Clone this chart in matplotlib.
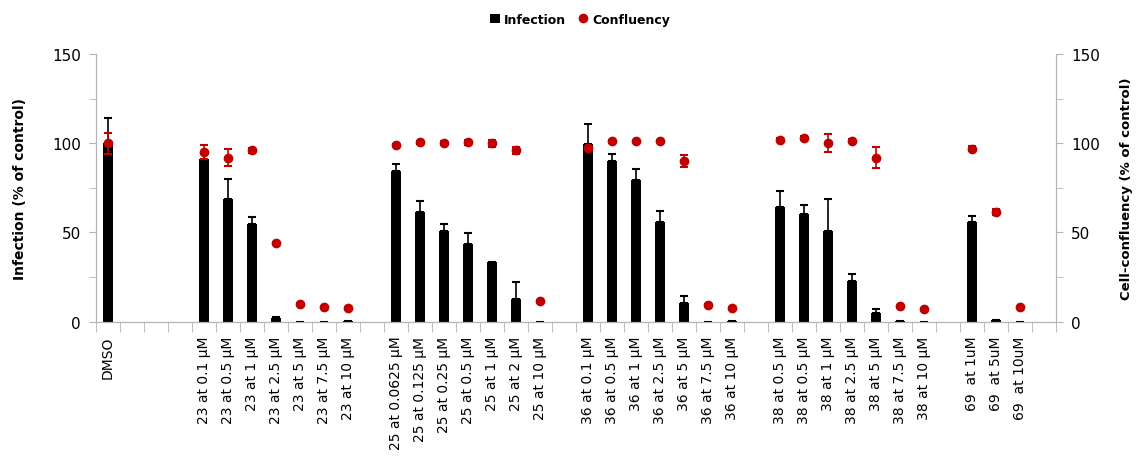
import numpy as np
import matplotlib
matplotlib.use("Agg")
import matplotlib.pyplot as plt
from matplotlib.lines import Line2D
from matplotlib.patches import Patch

# ---------------------------------------------------------------------------
# Data. "" = empty slot on the category axis.
# ---------------------------------------------------------------------------
labels = [
    "DMSO", "", "", "",
    "23 at 0.1 µM", "23 at 0.5 µM", "23 at 1 µM", "23 at 2.5 µM",
    "23 at 5 µM", "23 at 7.5 µM", "23 at 10 µM", "",
    "25 at 0.0625 µM", "25 at 0.125 µM", "25 at 0.25 µM", "25 at 0.5 µM",
    "25 at 1 µM", "25 at 2 µM", "25 at 10 µM", "",
    "36 at 0.1 µM", "36 at 0.5 µM", "36 at 1 µM", "36 at 2.5 µM",
    "36 at 5 µM", "36 at 7.5 µM", "36 at 10 µM", "",
    "38 at 0.5 µM", "38 at 0.5 µM", "38 at 1 µM", "38 at 2.5 µM",
    "38 at 5 µM", "38 at 7.5 µM", "38 at 10 µM", "",
    "69  at 1uM", "69  at 5uM", "69  at 10uM", "",
]

nan = np.nan
infection = [
    100, nan, nan, nan,
    91, 68.5, 54.5, 2, 0, 0, 0.5, nan,
    84.5, 61.5, 51, 43.5, 33.5, 12.5, 0, nan,
    99.5, 90, 79.5, 56, 10.5, 0, 0.5, nan,
    64, 60.5, 51, 23, 5, 0.5, 0, nan,
    56, 1, 0, nan,
]
# nan = no error bar drawn
infection_err = [
    14, nan, nan, nan,
    3, 11.5, 4, 0.5, nan, nan, nan, nan,
    4, 6, 4, 6, nan, 9.5, nan, nan,
    11, 4, 6, 6, 4, nan, nan, nan,
    9, 5, 18, 3.5, 2, nan, nan, nan,
    3.5, nan, nan, nan,
]
confluency = [
    100, nan, nan, nan,
    95, 92, 96, 44, 10, 8, 7.5, nan,
    99, 100.5, 100, 100.5, 100, 96, 11.5, nan,
    97.5, 101, 101, 101.5, 90, 9.5, 7.5, nan,
    102, 103, 100, 101.5, 92, 9, 7, nan,
    97, 61.5, 8, nan,
]
confluency_err = [
    6, nan, nan, nan,
    4, 5, 1.5, 0.5, 0.5, 0.5, 0.5, nan,
    0.5, 1, 1, 1.5, 2, 2, 0.5, nan,
    0.5, 1, 0.5, 0.5, 3.5, 0.5, 0.5, nan,
    1, 1, 5, 1, 6, 0.5, 0.5, nan,
    1.5, 1.5, 0.5, nan,
]

# ---------------------------------------------------------------------------
plt.rcParams['font.family'] = ['DejaVu Sans']
grey = '#B3B3B3'
red = '#C00000'

fig = plt.figure(figsize=(11.39, 4.77), dpi=100)
ax = fig.add_axes([0.0843, 0.3235, 0.8428, 0.5612])
ax2 = ax.twinx()

x = np.arange(len(labels))
inf = np.array(infection, dtype=float)
inf_e = np.array(infection_err, dtype=float)
conf = np.array(confluency, dtype=float)
conf_e = np.array(confluency_err, dtype=float)

ax.bar(x, inf, width=0.42, color='black', linewidth=0, zorder=2)
ax.errorbar(x, inf, yerr=[np.zeros_like(inf_e), inf_e], fmt='none',
            ecolor='black', elinewidth=1.2, capsize=3, capthick=1.5, zorder=3)

ax2.errorbar(x, conf, yerr=conf_e, fmt='o', color=red, ecolor=red,
             markersize=6, elinewidth=1.2, capsize=3, capthick=1.5, zorder=4)

for a in (ax, ax2):
    a.set_ylim(0, 150)
    a.set_yticks([0, 50, 100, 150])
    a.set_yticks([25, 75, 125], minor=True)
    a.tick_params(axis='y', which='both', length=5, color=grey,
                  labelsize=11, pad=6)
    for s in a.spines.values():
        s.set_color(grey)
    a.spines['top'].set_visible(False)

ax.set_xlim(-0.5, len(labels) - 0.5)
ax.set_xticks(x)
ax.set_xticklabels(labels, rotation=90, fontsize=10)
ax.set_xticks(np.arange(-0.5, len(labels), 1), minor=True)
ax.tick_params(axis='x', which='major', length=0, width=0, pad=10)
ax.tick_params(axis='x', which='minor', length=7, color=grey)

ax.set_ylabel("Infection (% of control)", fontsize=10, fontweight='bold',
              labelpad=18)
ax2.set_ylabel("Cell-confluency (% of control)", fontsize=9.5,
               fontweight='bold', labelpad=14)

handles = [
    Patch(facecolor='black', label='Infection'),
    Line2D([], [], marker='o', color=red, linestyle='none', markersize=6,
           label='Confluency'),
]
fig.legend(handles=handles, loc='center', bbox_to_anchor=(0.509, 0.958),
           ncol=2, frameon=False, handlelength=0.8,
           handletextpad=0.3, columnspacing=1.0,
           prop={'weight': 'bold', 'size': 9})

fig.savefig("out.png", dpi=100)
